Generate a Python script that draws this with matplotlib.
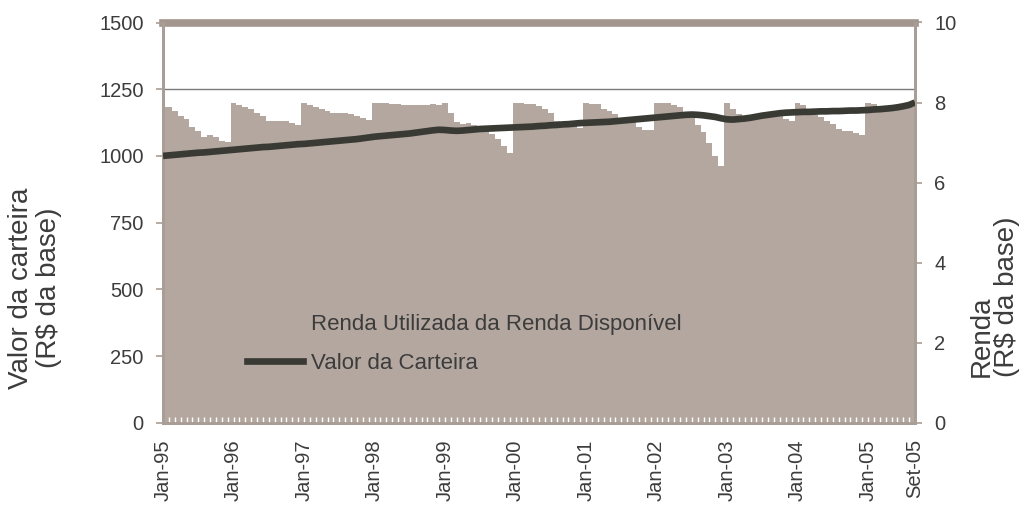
import numpy as np
import matplotlib
matplotlib.use('Agg')
import matplotlib.pyplot as plt
from matplotlib.patches import Patch
from matplotlib.lines import Line2D
from matplotlib.ticker import FixedLocator

plt.rcParams['font.family'] = ['Liberation Sans', 'DejaVu Sans']

# ---- data ----
tick_pos = [0, 12, 24, 36, 48, 60, 72, 84, 96, 108, 120, 128]
tick_labels = ['Jan-95', 'Jan-96', 'Jan-97', 'Jan-98', 'Jan-99', 'Jan-00',
               'Jan-01', 'Jan-02', 'Jan-03', 'Jan-04', 'Jan-05', 'Set-05']

# Renda utilizada (R$ da base, right axis), monthly Jan-95 .. Set-05
r95 = [7.88, 7.88, 7.80, 7.66, 7.60, 7.40, 7.28, 7.13, 7.19, 7.15, 7.05, 7.01]
r96 = [8.00, 7.93, 7.88, 7.85, 7.73, 7.66, 7.55, 7.55, 7.53, 7.53, 7.49, 7.43]
r97 = [8.00, 7.95, 7.88, 7.83, 7.80, 7.73, 7.73, 7.73, 7.71, 7.66, 7.61, 7.56]
r98 = [8.00, 8.00, 7.98, 7.96, 7.96, 7.95, 7.95, 7.95, 7.95, 7.95, 7.97, 7.93]
r99 = [8.00, 7.73, 7.51, 7.47, 7.49, 7.43, 7.41, 7.33, 7.22, 7.08, 6.91, 6.73]
r00 = [8.00, 7.98, 7.96, 7.96, 7.91, 7.83, 7.73, 7.55, 7.51, 7.47, 7.46, 7.36]
r01 = [8.00, 7.97, 7.96, 7.85, 7.78, 7.71, 7.62, 7.60, 7.58, 7.38, 7.32, 7.32]
r02 = [8.00, 8.00, 8.00, 7.95, 7.88, 7.76, 7.74, 7.44, 7.26, 6.98, 6.66, 6.41]
r03 = [8.00, 7.83, 7.71, 7.65, 7.65, 7.65, 7.70, 7.70, 7.70, 7.70, 7.60, 7.53]
r04 = [8.00, 7.95, 7.85, 7.68, 7.64, 7.55, 7.46, 7.35, 7.30, 7.30, 7.24, 7.19]
r05 = [8.00, 7.97, 7.80, 7.80, 7.82, 7.84, 7.86, 7.88, 7.90]

# Valor da carteira (R$ da base, left axis)
v95 = [1000, 1002, 1004, 1006, 1008, 1010, 1012, 1013, 1015, 1017, 1019, 1021]
v96 = [1023, 1025, 1027, 1029, 1031, 1033, 1034, 1036, 1038, 1040, 1042, 1044]
v97 = [1045, 1047, 1049, 1051, 1053, 1055, 1057, 1059, 1061, 1063, 1066, 1069]
v98 = [1072, 1074, 1076, 1078, 1080, 1082, 1084, 1087, 1090, 1093, 1096, 1098]
v99 = [1097, 1095, 1094, 1095, 1097, 1099, 1101, 1102, 1103, 1104, 1105, 1106]
v00 = [1107, 1108, 1109, 1110, 1112, 1113, 1115, 1116, 1118, 1119, 1121, 1123]
v01 = [1124, 1125, 1126, 1127, 1128, 1130, 1132, 1134, 1136, 1138, 1140, 1142]
v02 = [1144, 1146, 1148, 1150, 1152, 1154, 1155, 1154, 1152, 1149, 1146, 1141]
v03 = [1137, 1136, 1138, 1140, 1143, 1147, 1151, 1154, 1157, 1160, 1162, 1163]
v04 = [1164, 1165, 1165, 1166, 1167, 1167, 1168, 1168, 1169, 1170, 1170, 1171]
v05 = [1172, 1174, 1175, 1177, 1179, 1182, 1186, 1191, 1200]

renda = np.array(r95 + r96 + r97 + r98 + r99 + r00 + r01 + r02 + r03 + r04 + r05)
valor = np.array(v95 + v96 + v97 + v98 + v99 + v00 + v01 + v02 + v03 + v04 + v05)
x = np.arange(len(renda))

BAR = '#B3A7A0'
BAND = '#A3968E'
SPINE = '#A99D96'
LINE = '#3A3A35'
TXT = '#3C3C3C'

fig = plt.figure(figsize=(10.29, 5.05), dpi=100)
ax = fig.add_axes([163/1029, 1 - 422.7/505, (915-163)/1029, (422.7-22.5)/505])
ax2 = ax.twinx()

ax2.bar(x, renda, width=1.0, color=BAR, linewidth=0)
ax2.set_ylim(0, 10)
ax.set_ylim(0, 1500)
ax.set_xlim(0, 128)

ax.axhline(1250, color='#7A7A7A', lw=1.0, zorder=1)
ax.axhline(1500, color=BAND, lw=5.5, zorder=1, clip_on=False)
ax.plot(x, valor, color=LINE, lw=4.8, zorder=3, solid_capstyle='butt')

ax.set_zorder(ax2.get_zorder() + 1)
ax.patch.set_visible(False)

for a in (ax, ax2):
    a.spines['top'].set_visible(False)
    a.spines['left'].set_color(SPINE)
    a.spines['right'].set_color(SPINE)
    a.spines['left'].set_linewidth(2.0)
    a.spines['right'].set_linewidth(2.0)
    a.spines['bottom'].set_color(SPINE)
    a.spines['bottom'].set_linewidth(2.0)
    a.spines['bottom'].set_linestyle((0, (1, 1)))

ax.set_yticks([0, 250, 500, 750, 1000, 1250, 1500])
ax2.set_yticks([0, 2, 4, 6, 8, 10])
ax.tick_params(axis='y', colors=SPINE, labelcolor=TXT, labelsize=14.5,
               length=5, width=1.2, pad=9, direction='out')
ax2.tick_params(axis='y', colors=SPINE, labelcolor=TXT, labelsize=14.5,
                length=5, width=1.2, pad=9, direction='out')

ax.set_xticks(tick_pos)
ax.set_xticklabels(tick_labels, rotation=90)
ax.xaxis.set_minor_locator(FixedLocator(list(x)))
ax.tick_params(axis='x', which='major', colors='white', labelcolor=TXT,
               labelsize=14.5, length=4, width=1.0, direction='in', pad=12)
ax.tick_params(axis='x', which='minor', colors='white', length=4, width=1.0,
               direction='in')
ax2.tick_params(axis='x', which='both', bottom=False)

# left axis title (two lines, centred)
fig.text(21/1029, 1 - 288/505, 'Valor da carteira', rotation=90,
         ha='center', va='center', fontsize=20, color=TXT)
fig.text(49/1029, 1 - 288/505, '(R$ da base)', rotation=90,
         ha='center', va='center', fontsize=20, color=TXT)
# right axis title (two lines, bottom aligned)
fig.text(982/1029, 1 - 377/505, 'Renda', rotation=90,
         ha='center', va='bottom', fontsize=20, color=TXT)
fig.text(1007/1029, 1 - 377/505, '(R$ da base)', rotation=90,
         ha='center', va='bottom', fontsize=20, color=TXT)

handles = [Patch(facecolor=BAR, edgecolor='none'),
           Line2D([0], [0], color=LINE, lw=4.8)]
labels = ['Renda Utilizada da Renda Disponível', 'Valor da Carteira']
leg = ax.legend(handles, labels, loc='upper left',
                bbox_to_anchor=((247-163)/752, (422.7-314)/400.2),
                frameon=False, fontsize=16, handlelength=2.5,
                handletextpad=0.4, labelspacing=0.8, borderpad=0,
                borderaxespad=0)
for t in leg.get_texts():
    t.set_color(TXT)

fig.savefig('out.png', dpi=100)
